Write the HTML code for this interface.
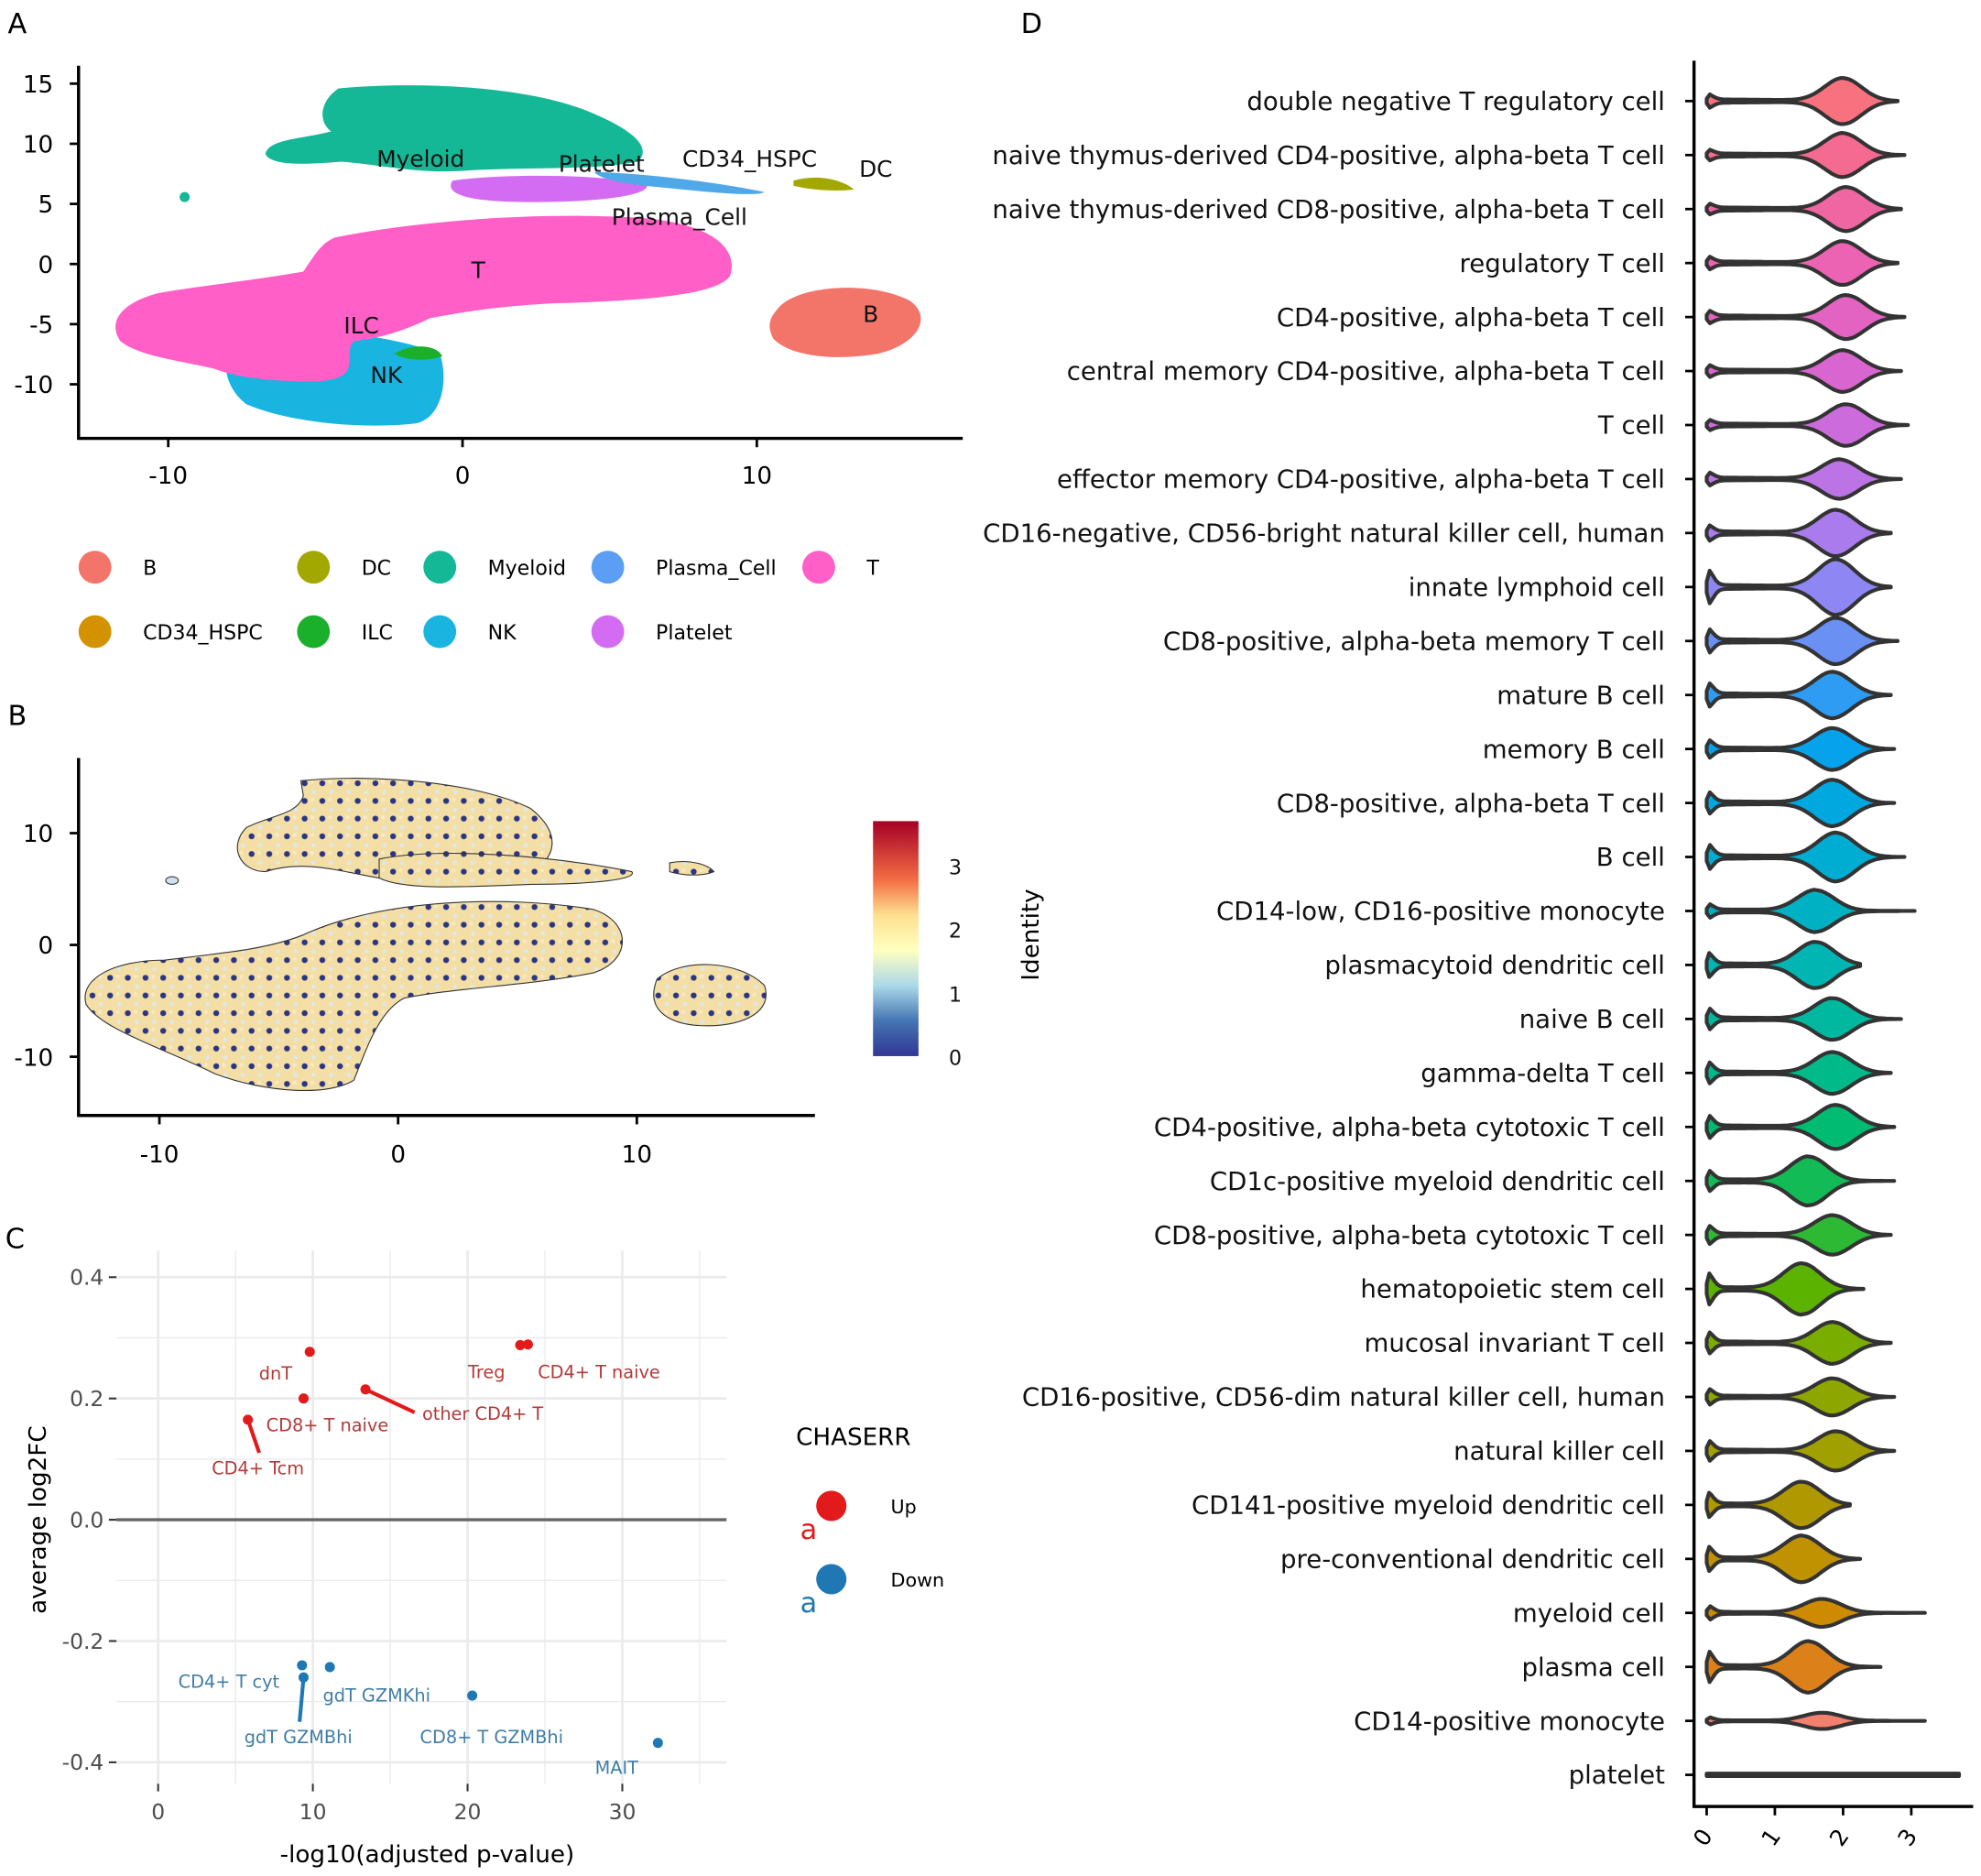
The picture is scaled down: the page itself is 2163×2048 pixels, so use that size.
<!DOCTYPE html>
<html><head><meta charset="utf-8">
<style>
html,body{margin:0;padding:0;background:#fff;}
svg{display:block;font-family:"DejaVu Sans","Liberation Sans",sans-serif;}
</style></head>
<body>
<svg id="fig" width="2163" height="2048" viewBox="0 0 1568 1485" xmlns="http://www.w3.org/2000/svg">
<defs>
<pattern id="dotpat" width="14" height="14" patternUnits="userSpaceOnUse">
<rect width="14" height="14" fill="#f3dfa6"/>
<circle cx="3" cy="4" r="2.3" fill="#2c3582"/>
<circle cx="10" cy="11" r="1.6" fill="#dce8ee"/>
<circle cx="9" cy="3" r="1.5" fill="#fbe9c4"/>
</pattern>
<linearGradient id="cbar" x1="0" y1="1" x2="0" y2="0">
<stop offset="0" stop-color="#313695"/><stop offset="0.15" stop-color="#4575b4"/>
<stop offset="0.3" stop-color="#abd9e9"/><stop offset="0.45" stop-color="#ffffbf"/>
<stop offset="0.6" stop-color="#fee090"/><stop offset="0.75" stop-color="#f46d43"/>
<stop offset="1" stop-color="#a50026"/></linearGradient>
</defs>

<text x="6" y="26" font-size="22">A</text>
<text x="6" y="574" font-size="22">B</text>
<text x="4" y="988" font-size="22">C</text>
<text x="808" y="26" font-size="22">D</text>

<g>
<path fill="#14b896" d="M268,70 C330,64 420,68 470,90 C505,105 515,118 505,128 C470,135 420,132 370,135 C330,138 300,130 270,128 C245,130 215,132 210,122 C212,110 240,110 262,104 C250,95 255,78 268,70Z"/>
<path fill="#d36cf2" d="M358,143 C400,137 480,138 512,146 C515,154 480,160 420,160 C380,160 350,156 358,143Z"/>
<path fill="#4fa8e8" d="M470,136 C520,138 570,145 605,152 C600,156 560,152 520,148 C495,146 475,142 470,136Z"/>
<path fill="#a2a800" d="M628,143 C645,138 665,141 676,150 C660,152 640,150 628,147Z"/>
<circle cx="146" cy="156" r="4" fill="#14b896"/>
<path fill="#19b4e0" d="M185,265 C230,258 300,262 348,280 C355,300 350,330 330,335 C290,340 230,335 195,320 C175,305 175,280 185,265Z"/>
<path fill="#ff5fc7" d="M265,188 C330,175 420,168 500,172 C560,175 585,195 578,218 C570,232 520,238 440,240 C400,242 370,246 340,252 C320,262 300,268 280,270 C270,280 290,300 250,302 C220,302 190,300 170,292 C140,285 110,282 95,270 C85,255 95,240 125,232 C160,226 200,222 240,215 C250,200 255,192 265,188Z"/>
<path fill="#1bb02c" d="M312,280 C325,272 345,272 350,282 C340,286 322,286 312,280Z"/>
<path fill="#f3756a" d="M615,245 C630,225 690,222 720,238 C738,250 728,272 695,280 C660,286 625,282 612,268 C607,258 609,252 615,245Z"/>
</g>
<g font-size="18" fill="#111">
<text x="298" y="132">Myeloid</text><text x="442" y="136">Platelet</text>
<text x="540" y="132">CD34_HSPC</text><text x="680" y="140">DC</text>
<text x="484" y="178">Plasma_Cell</text><text x="373" y="220">T</text>
<text x="272" y="264">ILC</text><text x="293" y="303">NK</text><text x="683" y="255">B</text>
</g>
<g id="axA"></g>
<g id="legA"></g>

<g stroke="#333" stroke-width="0.8">
<path fill="url(#dotpat)" d="M238,618 C300,612 380,620 420,640 C445,660 440,680 420,690 C380,700 320,700 300,695 C270,690 240,680 210,690 C190,690 180,670 195,655 C215,645 235,645 240,630Z"/>
<path fill="url(#dotpat)" d="M300,680 C350,670 440,678 500,690 C505,696 470,700 420,700 C370,702 320,705 300,695Z"/>
<path fill="url(#dotpat)" d="M530,683 C545,680 560,684 565,690 C555,694 540,693 530,690Z"/>
<path fill="url(#dotpat)" d="M240,740 C300,712 400,708 470,720 C500,730 500,760 470,770 C420,780 360,782 320,790 C300,800 290,830 280,855 C260,868 210,865 170,850 C130,830 80,815 68,795 C62,775 90,760 130,760 C170,755 210,752 240,740Z"/>
<path fill="url(#dotpat)" d="M520,775 C540,758 585,760 605,780 C612,800 590,812 560,812 C530,812 510,800 520,775Z"/>
<ellipse cx="136" cy="697" rx="5" ry="3" fill="#cfe2ec"/>
</g>
<g id="axB"></g>
<rect x="691" y="650" width="36" height="186" fill="url(#cbar)"/>
<g font-size="16" fill="#111">
<text x="751" y="692">3</text><text x="751" y="742">2</text><text x="751" y="793">1</text><text x="751" y="843">0</text>
</g>

<g id="plotC"></g>
<g id="plotD"></g>
</svg>

<script>
var NS="http://www.w3.org/2000/svg";
function mk(parent,tag,attrs,txt){var e=document.createElementNS(NS,tag);for(var k in attrs)e.setAttribute(k,attrs[k]);if(txt!==undefined)e.textContent=txt;parent.appendChild(e);return e;}

var aXTicks=[-10,0,10];
var aYTicks=[15,10,5,0,-5,-10];
(function(){
var g=document.getElementById('axA');
function ax(v){return 366+v*23.3;} function ay(v){return 209-v*9.52;}
mk(g,'line',{x1:62,y1:52,x2:62,y2:348,stroke:'#000','stroke-width':2.5});
mk(g,'line',{x1:61,y1:347,x2:762,y2:347,stroke:'#000','stroke-width':2.5});
aXTicks.forEach(function(t){var x=ax(t);
 var l=mk(g,'line',{x1:x,y1:347,x2:x,y2:354,stroke:'#000','stroke-width':2});
 
 var tx=mk(g,'text',{x:x,y:383,'font-size':19,'text-anchor':'middle'},String(t));
 });
aYTicks.forEach(function(t){var y=ay(t);
 var l=mk(g,'line',{x1:55,y1:y,x2:62,y2:y,stroke:'#000','stroke-width':2});
 
 var tx=mk(g,'text',{x:42,y:y+7,'font-size':19,'text-anchor':'end'},String(t));
 });
})();

var legNames=['B','DC','Myeloid','Plasma_Cell','T','CD34_HSPC','ILC','NK','Platelet'];
var legColors=['#f3756a','#a2a800','#14b896','#5b9ef3','#ff5fc7','#d39200','#1bb02c','#19b4e0','#d36cf2'];
(function(){
var g=document.getElementById('legA');
var cols=[75,248,348,481,648];
legNames.forEach(function(n,i){var r=i<5?0:1;var c=i<5?i:i-5;var x=cols[c],y=r?500:449;
 var ci=mk(g,'circle',{cx:x,cy:y,r:13,fill:legColors[i]});
 
 var t=mk(g,'text',{x:x+38,y:y+6,'font-size':16},n);
 });
})();

var bXTicks=[-10,0,10];
var bYTicks=[10,0,-10];
(function(){
var g=document.getElementById('axB');
function bx(v){return 315+v*18.9;} function by(v){return 748-v*8.85;}
mk(g,'line',{x1:62,y1:600,x2:62,y2:884,stroke:'#000','stroke-width':2.5});
mk(g,'line',{x1:61,y1:883,x2:645,y2:883,stroke:'#000','stroke-width':2.5});
bXTicks.forEach(function(t){var x=bx(t);
 var l=mk(g,'line',{x1:x,y1:883,x2:x,y2:890,stroke:'#000','stroke-width':2});
 
 var tx=mk(g,'text',{x:x,y:920,'font-size':19,'text-anchor':'middle'},String(t));
 });
bYTicks.forEach(function(t){var y=by(t);
 var l=mk(g,'line',{x1:55,y1:y,x2:62,y2:y,stroke:'#000','stroke-width':2});
 
 var tx=mk(g,'text',{x:42,y:y+7,'font-size':19,'text-anchor':'end'},String(t));
 });
})();

var cNames=['dnT','CD8+ T naive','CD4+ Tcm','other CD4+ T','Treg','CD4+ T naive','CD4+ T cyt','gdT GZMBhi','gdT GZMKhi','CD8+ T GZMBhi','MAIT'];
var cX=[9.8,9.4,5.8,13.4,23.4,23.9,9.3,9.4,11.1,20.3,32.3];
var cY=[0.277,0.2,0.165,0.215,0.288,0.289,-0.24,-0.26,-0.243,-0.29,-0.368];
var cDir=['Up','Up','Up','Up','Up','Up','Down','Down','Down','Down','Down'];
var cXTicks=[0,10,20,30];
var cYTicks=[0.4,0.2,0.0,-0.2,-0.4];
var cLabelPos=[[218,1087],[259,1128],[204,1162],[382,1119],[385,1086],[474,1086],[181,1331],[236,1375],[298,1342],[389,1375],[488,1399]];
var cLeader=[null,null,[205,1150],[328,1118],null,null,null,[237,1363],null,null,null];
(function(){
var g=document.getElementById('plotC');
function cx(v){return 125+v*12.25;} function cy(v){return 1203-v*480;}
var L=92,R=575,T=990,B=1412;
for(var v=-5;v<=35;v+=5){var x=cx(v);if(x<L||x>R)continue;mk(g,'line',{x1:x,y1:T,x2:x,y2:B,stroke:'#ebebeb','stroke-width':v%10===0?2:1});}
for(var w=-0.4;w<=0.41;w+=0.1){var y=cy(w);mk(g,'line',{x1:L,y1:y,x2:R,y2:y,stroke:'#ebebeb','stroke-width':Math.abs(Math.round(w*10))%2===0?2:1});}
mk(g,'line',{x1:L,y1:cy(0),x2:R,y2:cy(0),stroke:'#666','stroke-width':2.5});
cXTicks.forEach(function(t){var x=cx(t);
 var l=mk(g,'line',{x1:x,y1:B,x2:x,y2:B+6,stroke:'#333','stroke-width':1.5});
 
 var tx=mk(g,'text',{x:x,y:1440,'font-size':17,'text-anchor':'middle',fill:'#4d4d4d'},String(t));
 });
cYTicks.forEach(function(t){var y=cy(t);
 var l=mk(g,'line',{x1:86,y1:y,x2:92,y2:y,stroke:'#333','stroke-width':1.5});
 
 var tx=mk(g,'text',{x:82,y:y+6,'font-size':17,'text-anchor':'end',fill:'#4d4d4d'},t.toFixed(1));
 });
var xt=mk(g,'text',{x:338,y:1474,'font-size':19,'text-anchor':'middle'},'-log10(adjusted p-value)');

var yt=mk(g,'text',{x:0,y:0,'font-size':19,'text-anchor':'middle',transform:'translate(36,1203) rotate(-90)'},'average log2FC');

cNames.forEach(function(n,i){var up=cDir[i]==='Up';var col=up?'#e31a1c':'#1f78b4';var px=cx(cX[i]),py=cy(cY[i]);
 if(cLeader[i]){var ld=mk(g,'line',{x1:px,y1:py,x2:cLeader[i][0],y2:cLeader[i][1],stroke:col,'stroke-width':3});
  }
 var p=mk(g,'circle',{cx:px,cy:py,r:4,fill:col});
 
 var lb=mk(g,'text',{x:cLabelPos[i][0],y:cLabelPos[i][1]+5,'font-size':14,'text-anchor':'middle',fill:up?'#b33a3a':'#3f7ea6'},n);
 });
var lt=mk(g,'text',{x:630,y:1144,'font-size':19},'CHASERR');

[['Up','#e31a1c',1192],['Down','#1f78b4',1250]].forEach(function(d){
 var c=mk(g,'circle',{cx:658,cy:d[2],r:12,fill:d[1]});
 var a=mk(g,'text',{x:640,y:d[2]+26,'font-size':22,fill:d[1],'text-anchor':'middle'},'a');
 var t=mk(g,'text',{x:705,y:d[2]+6,'font-size':15},d[0]);});
})();

var dNames=['double negative T regulatory cell','naive thymus-derived CD4-positive, alpha-beta T cell','naive thymus-derived CD8-positive, alpha-beta T cell','regulatory T cell','CD4-positive, alpha-beta T cell','central memory CD4-positive, alpha-beta T cell','T cell','effector memory CD4-positive, alpha-beta T cell','CD16-negative, CD56-bright natural killer cell, human','innate lymphoid cell','CD8-positive, alpha-beta memory T cell','mature B cell','memory B cell','CD8-positive, alpha-beta T cell','B cell','CD14-low, CD16-positive monocyte','plasmacytoid dendritic cell','naive B cell','gamma-delta T cell','CD4-positive, alpha-beta cytotoxic T cell','CD1c-positive myeloid dendritic cell','CD8-positive, alpha-beta cytotoxic T cell','hematopoietic stem cell','mucosal invariant T cell','CD16-positive, CD56-dim natural killer cell, human','natural killer cell','CD141-positive myeloid dendritic cell','pre-conventional dendritic cell','myeloid cell','plasma cell','CD14-positive monocyte','platelet'];
var dPeak=[2.0,2.0,2.05,2.0,2.05,2.0,2.05,1.95,1.9,1.9,1.9,1.85,1.85,1.85,1.9,1.6,1.6,1.85,1.85,1.9,1.5,1.85,1.4,1.85,1.85,1.9,1.4,1.4,1.7,1.5,1.7,1.5];
var dMax=[2.8,2.9,2.85,2.8,2.9,2.85,2.95,2.85,2.7,2.7,2.8,2.7,2.75,2.75,2.9,3.05,2.25,2.85,2.7,2.75,2.75,2.7,2.3,2.7,2.75,2.75,2.1,2.25,3.2,2.55,3.2,3.7];
var dZero=[0.25,0.2,0.2,0.25,0.25,0.25,0.2,0.3,0.3,0.6,0.5,0.5,0.4,0.45,0.5,0.3,0.5,0.5,0.5,0.5,0.4,0.45,0.6,0.5,0.4,0.5,0.5,0.5,0.5,0.6,0.45,0.05];
var dWidth=[1,0.95,0.95,0.95,0.95,0.9,0.9,0.85,1,1.2,1,1,0.9,1,1.05,0.9,1,0.9,0.9,0.95,1.05,0.85,1.1,0.9,0.8,0.85,1,1,0.6,1.1,0.35,0.02];
var dTicks=[0,1,2,3];
var dColors=['#F8717F','#F56A90','#F066A2','#EB63B2','#E363C2','#D966D0','#CC6CDC','#BC73E5','#A97BEC','#8E86F2','#6A90F4','#2D9CF2','#07A2EC','#00A8E0','#00ADD2','#00B1C3','#00B5B2','#00B89F','#00BA8A','#00BB72','#13BB56','#2DB933','#5BB300','#79AD00','#8EA700','#A0A000','#B09900','#C09100','#CE8A00','#DC801A','#F2806E','#F2806E'];
(function(){
var g=document.getElementById('plotD');
function dx(v){return 1351+v*54;} function dy(i){return 80+i*42.74;}
var n=dNames.length;
dNames.forEach(function(name,i){
 var y=dy(i);
 var col=dColors[i];
 var pk=dPeak[i],mx=dMax[i],z=dZero[i],w=dWidth[i];
 var top=[],bot=[];
 for(var k=0;k<=60;k++){var v=mx*k/60;
  var h=18*w*(Math.exp(-Math.pow((v-pk)/0.38,2))+z*Math.exp(-Math.pow(v/0.12,2))+0.08*(1-v/mx)*(v<pk?1:0.5));
  if(i===n-1)h=1;
  if(k===0||k===60)h=Math.min(h,Math.max(h*0.3,1));
  top.push(dx(v).toFixed(1)+','+(y-h).toFixed(1));bot.unshift(dx(v).toFixed(1)+','+(y+h).toFixed(1));}
 var p=mk(g,'path',{d:'M'+top.join('L')+'L'+bot.join('L')+'Z',fill:col,stroke:'#333','stroke-width':3,'stroke-linejoin':'round'});
 
 var tk=mk(g,'line',{x1:1334,y1:y,x2:1341,y2:y,stroke:'#000','stroke-width':2});
 
 var t=mk(g,'text',{x:1318,y:y+7,'font-size':20,'text-anchor':'end',fill:'#111'},name);
 });
mk(g,'line',{x1:1341,y1:48,x2:1341,y2:1431,stroke:'#000','stroke-width':2.5});
mk(g,'line',{x1:1340,y1:1430,x2:1562,y2:1430,stroke:'#000','stroke-width':2.5});
dTicks.forEach(function(t){var x=dx(t);
 var l=mk(g,'line',{x1:x,y1:1430,x2:x,y2:1437,stroke:'#000','stroke-width':2});
 
 var tx=mk(g,'text',{x:0,y:0,'font-size':18,'text-anchor':'middle',transform:'translate('+(x+2)+',1458) rotate(-55)'},String(t));
 });
var yt=mk(g,'text',{x:0,y:0,'font-size':19,'text-anchor':'middle',transform:'translate(822,740) rotate(-90)'},'Identity');

})();
</script>
</body></html>
